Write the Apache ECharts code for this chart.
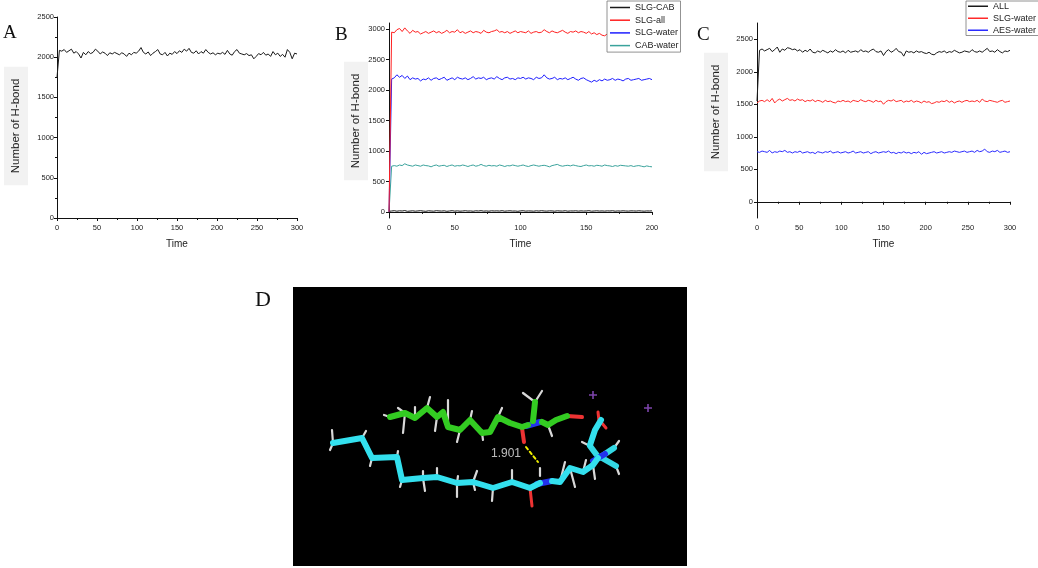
<!DOCTYPE html>
<html>
<head>
<meta charset="utf-8">
<title>H-bond</title>
<script src="https://cdn.jsdelivr.net/npm/echarts@6/dist/echarts.min.js"></script>
<style>
  html, body { margin: 0; padding: 0; background: #fff; }
  #chart { width: 1038px; height: 568px; }
</style>
</head>
<body>
<div id="chart"></div>
<script type="text/javascript">
// ---- data ----
var spanA = 300, spanB = 200, spanC = 300;
var yTicksB = [0, 500, 1000, 1500, 2000, 2500, 3000];
var yTicksC = [0, 500, 1000, 1500, 2000, 2500];

// panel A (every ~3 time units)
var hbondA = [1750, 2085, 2075, 2095, 2060, 2080, 2100, 2050, 2070, 2040, 1990, 2060, 2030, 2070, 2045, 2060, 2100, 2075, 2040, 2065,
  2050, 2020, 2055, 2040, 2060, 2045, 2030, 2055, 2040, 2010, 2050, 2030, 2060, 2050, 2075, 2120, 2060, 2040, 2065, 2020,
  2050, 2070, 2095, 2040, 2030, 2060, 2015, 2050, 2035, 2070, 2045, 2080, 2060, 2100, 2075, 2110, 2060, 2050, 2080, 2040,
  2070, 2050, 2095, 2060, 2040, 2055, 2030, 2050, 2040, 2060, 2035, 2085, 2040, 2025, 2070, 2095, 2050, 2040, 2030, 2045,
  2020, 2030, 1980, 2010, 2045, 2030, 2060, 2025, 2040, 2010, 2070, 2030, 2050, 2010, 2035, 2000, 2095, 2060, 1980, 2050, 2040];

// panel B (every ~2 time units)
var slgCab = [10, 15, 20, 12, 18, 15, 22, 10, 14, 18, 12, 16, 20, 14, 10, 18, 15, 12, 20, 16, 14, 18, 10, 15, 20, 13, 17, 12, 15, 19,
  14, 16, 11, 18, 15, 20, 13, 16, 12, 18, 15, 17, 14, 20, 12, 16, 18, 14, 15, 10, 17, 19, 13, 16, 15, 12, 18, 14, 20, 15,
  13, 17, 16, 12, 18, 15, 14, 19, 12, 16, 15, 18, 13, 17, 14, 16, 20, 12, 15, 18, 14, 16, 13, 17, 15, 19, 12, 16, 14, 18,
  15, 13, 17, 16, 14, 18, 15, 12, 16, 15, 17];
var slgAll = [0, 2950, 2940, 2990, 3010, 2960, 3020, 2970, 2930, 2980, 2950, 2960, 2920, 2940, 2960, 2930, 2950, 2970, 2940, 2960,
  2930, 2950, 2980, 2940, 2960, 2950, 2990, 2940, 2960, 2930, 2950, 2970, 2940, 2960, 2950, 2930, 2980, 2950, 2940, 2960,
  2970, 2990, 2950, 2960, 2940, 2960, 2930, 2950, 2970, 2940, 2960, 2950, 2940, 2970, 2930, 2950, 2960, 2940, 2950, 2990,
  2960, 2940, 2970, 2950, 2940, 2960, 2980, 2950, 2930, 2960, 2950, 2970, 2940, 2960, 2950, 2930, 2960, 2920, 2940, 2910,
  2930, 2900, 2890, 2920, 2880, 2910, 2900, 2930, 2910, 2920, 2940, 2910, 2920, 2930, 2910, 2920, 2900, 2930, 2910, 2920, 2910];
var slgWaterB = [0, 2180, 2200, 2250, 2210, 2240, 2190, 2230, 2170, 2200, 2180, 2190, 2150, 2180, 2170, 2200, 2160, 2190, 2200, 2170,
  2190, 2210, 2160, 2180, 2200, 2170, 2210, 2190, 2180, 2200, 2170, 2190, 2220, 2180, 2200, 2190, 2210, 2170, 2190, 2200,
  2180, 2220, 2190, 2170, 2200, 2210, 2180, 2190, 2170, 2200, 2190, 2210, 2180, 2200, 2190, 2170, 2210, 2190, 2200, 2250,
  2200, 2180, 2190, 2210, 2170, 2190, 2180, 2200, 2170, 2190, 2210, 2180, 2160, 2190, 2200, 2170, 2150, 2130, 2160, 2140,
  2170, 2150, 2180, 2160, 2170, 2190, 2160, 2180, 2170, 2150, 2180, 2190, 2160, 2170, 2180, 2190, 2160, 2170, 2180, 2190, 2170];
var cabWater = [0, 750, 760, 750, 770, 760, 790, 770, 760, 750, 770, 760, 750, 770, 760, 755, 740, 760, 770, 750,
  760, 765, 745, 760, 770, 750, 760, 755, 770, 760, 745, 760, 770, 750, 760, 780, 760, 750, 765, 755,
  760, 750, 770, 760, 745, 760, 755, 770, 760, 750, 760, 770, 755, 745, 760, 770, 760, 750, 760, 765,
  755, 740, 760, 770, 780, 760, 750, 760, 765, 755, 770, 760, 750, 745, 760, 770, 755, 760, 750, 765,
  760, 750, 770, 760, 755, 745, 760, 750, 765, 760, 755, 750, 760, 745, 755, 760, 750, 740, 755, 745, 740];

// panel C (every ~3 time units)
var allC = [1550, 2330, 2350, 2320, 2340, 2360, 2310, 2340, 2380, 2300, 2350, 2330, 2370, 2360, 2340, 2350, 2320, 2340, 2300, 2330,
  2310, 2350, 2300, 2290, 2320, 2300, 2330, 2310, 2290, 2320, 2300, 2340, 2310, 2300, 2320, 2290, 2330, 2300, 2310, 2320,
  2300, 2340, 2310, 2320, 2300, 2330, 2350, 2310, 2300, 2320, 2250, 2310, 2340, 2300, 2320, 2360, 2310, 2300, 2240, 2320,
  2300, 2310, 2290, 2320, 2300, 2310, 2290, 2280, 2300, 2270, 2260, 2290, 2310, 2300, 2320, 2290, 2310, 2300, 2330, 2310,
  2290, 2300, 2320, 2310, 2300, 2340, 2310, 2300, 2320, 2300, 2330, 2360, 2310, 2320, 2300, 2340, 2310, 2290, 2320, 2310, 2330];
var slgWaterC = [1520, 1550, 1560, 1540, 1570, 1540, 1590, 1520, 1560, 1580, 1550, 1570, 1590, 1560, 1570, 1550, 1580, 1560, 1570, 1540,
  1560, 1550, 1570, 1540, 1560, 1550, 1530, 1560, 1540, 1550, 1530, 1520, 1550, 1540, 1560, 1540, 1550, 1530, 1560, 1550,
  1540, 1570, 1550, 1540, 1560, 1550, 1530, 1560, 1540, 1550, 1500, 1540, 1560, 1550, 1570, 1540, 1550, 1560, 1530, 1550,
  1540, 1560, 1530, 1550, 1540, 1520, 1550, 1530, 1540, 1510, 1520, 1540, 1530, 1550, 1540, 1560, 1530, 1550, 1520, 1540,
  1550, 1530, 1550, 1560, 1540, 1550, 1540, 1560, 1530, 1580, 1550, 1540, 1560, 1550, 1540, 1530, 1550, 1560, 1530, 1540, 1550];
var aesWater = [770, 760, 780, 770, 760, 790, 750, 770, 760, 780, 770, 790, 760, 770, 750, 770, 760, 780, 750, 760,
  770, 750, 760, 740, 770, 760, 750, 770, 760, 780, 750, 760, 770, 750, 760, 770, 750, 760, 780, 750,
  760, 770, 750, 760, 770, 740, 760, 770, 750, 760, 770, 760, 780, 750, 760, 740, 760, 750, 770, 750,
  760, 740, 760, 750, 770, 730, 760, 740, 750, 760, 770, 750, 760, 770, 750, 760, 770, 760, 780, 770,
  760, 770, 780, 760, 770, 780, 760, 790, 770, 780, 810, 770, 760, 780, 770, 790, 760, 770, 780, 760, 770];

// panel D: stick model, picture coordinates inside the black frame
var cyanChain = [[43,163],[72,158],[82,178],[107,177],[112,200],[133,198],[147,197],[167,203],[183,202],[203,208],[222,202],[240,208],[250,203]];
var cyanTail = [[262,201],[270,202],[280,188],[293,192],[303,185],[308,178]];
var cyanHead = [[300,165],[305,150],[311,140]];
var cyanMethyls = [[[312,176],[324,168]], [[312,178],[326,186]], [[309,178],[300,166]]];
var cyanN = [[[247,204],[262,201]], [[303,181],[315,174]]];
var cyanO = [[[240,208],[242,226]], [[309,141],[308,132]], [[311,142],[316,148]]];
var greenChain = [[100,137],[115,133],[125,138],[137,128],[147,137],[153,132],[158,147],[170,150],[180,140],[192,153],[200,152],[208,137],[220,143],[232,147],[238,145]];
var greenTail = [[252,142],[258,145],[266,140],[277,136]];
var greenMethyl = [[243,141],[245,122]];
var greenN = [[[236,146],[250,142]]];
var greenO = [[[232,148],[234,162]], [[277,136],[292,137]]];
var hydrogens = [
  [[43,163],[42,150]], [[43,163],[40,170]], [[72,158],[76,151]], [[82,178],[80,186]], [[107,177],[108,171]],
  [[112,200],[110,207]], [[133,198],[133,191]], [[133,198],[135,211]], [[147,197],[147,188]], [[167,203],[167,217]],
  [[167,203],[168,196]], [[183,202],[187,191]], [[183,202],[185,210]], [[203,208],[202,221]], [[222,202],[222,190]],
  [[250,188],[250,196]], [[270,202],[275,182]], [[280,188],[285,207]], [[293,192],[296,180]], [[303,185],[305,199]],
  [[324,168],[329,161]], [[326,186],[329,194]], [[300,166],[292,162]],
  [[100,137],[94,135]], [[115,133],[108,128]], [[115,133],[113,153]], [[125,138],[125,127]], [[137,128],[140,117]],
  [[147,137],[145,151]], [[158,147],[158,120]], [[170,150],[167,162]], [[180,140],[182,131]], [[192,153],[193,160]],
  [[208,137],[212,128]], [[245,122],[233,113]], [[245,122],[252,111]], [[258,145],[262,156]]
];
var hBond = [[236,167],[248,182]];
var hBondLabel = [[216,174, '1.901']];
var ions = [[303,115],[358,128]];

function toPairs(values, span) {
  return values.map(function (v, i) { return [i * span / (values.length - 1), v]; });
}

var myChart = echarts.init(document.getElementById('chart'), null, { renderer: 'canvas' });
var font = 'Liberation Sans, Arial, sans-serif';
var plain = function (v) { return String(v); };

function xAxisOf(grid, max) {
  return {
    gridIndex: grid, type: 'value', min: 0, max: max, interval: 50,
    axisLine: { lineStyle: { color: '#111', width: 1 } }, splitLine: { show: false },
    axisTick: { show: true, inside: false, length: 3, lineStyle: { color: '#111' } },
    minorTick: { show: true, splitNumber: 2, length: 2, lineStyle: { color: '#111' } },
    axisLabel: { fontSize: 7.5, color: '#222', margin: 6, fontFamily: font, formatter: plain },
    name: 'Time', nameLocation: 'middle', nameGap: 21,
    nameTextStyle: { fontSize: 10, color: '#222', fontFamily: font }
  };
}

// rotated y-axis title with its grey box
function yTitle(x, y) {
  return {
    type: 'text', x: x, y: y, rotation: Math.PI / 2, silent: true,
    style: {
      text: 'Number of H-bond', font: '11.5px ' + font, fill: '#222',
      align: 'center', verticalAlign: 'middle',
      backgroundColor: '#f2f2f2', padding: [6, 12, 6, 12]
    }
  };
}

function lineSeries(name, data, color, xi) {
  return {
    name: name, type: 'line', xAxisIndex: xi, yAxisIndex: xi, data: data,
    symbol: 'none', silent: true, animation: false,
    lineStyle: { color: color, width: 1 }, itemStyle: { color: color }
  };
}

function stick(data, color, width) {
  return {
    type: 'line', xAxisIndex: 3, yAxisIndex: 3, data: data, symbol: 'none', silent: true, animation: false,
    lineStyle: { color: color, width: width || 6, cap: 'round', join: 'round' }
  };
}

function segs(list, color, width, type) {
  return {
    type: 'lines', coordinateSystem: 'cartesian2d', xAxisIndex: 3, yAxisIndex: 3, silent: true, animation: false,
    data: list.map(function (s) { return { coords: s }; }),
    lineStyle: { color: color, width: width, cap: 'round', type: type || 'solid', opacity: 1 }
  };
}

var yA = {
  gridIndex: 0, type: 'value', min: 0, max: 2500, interval: 500,
  axisLine: { show: true, lineStyle: { color: '#111' } }, splitLine: { show: false },
  axisTick: { show: true, length: 3, lineStyle: { color: '#111' } },
  minorTick: { show: true, splitNumber: 2, length: 2, lineStyle: { color: '#111' } },
  axisLabel: { fontSize: 7.5, color: '#222', margin: 3, fontFamily: font, formatter: plain }
};

var yB = {
  gridIndex: 1, type: 'value', min: -100, max: 3100,
  axisLine: { show: true, lineStyle: { color: '#111' } }, splitLine: { show: false },
  axisTick: { show: true, length: 3, customValues: yTicksB, lineStyle: { color: '#111' } },
  axisLabel: { fontSize: 7.5, color: '#222', margin: 4, customValues: yTicksB, fontFamily: font, formatter: plain }
};

var yC = {
  gridIndex: 2, type: 'value', min: -250, max: 2750,
  axisLine: { show: true, lineStyle: { color: '#111' } }, splitLine: { show: false },
  axisTick: { show: true, length: 3, customValues: yTicksC, lineStyle: { color: '#111' } },
  axisLabel: { fontSize: 7.5, color: '#222', margin: 4, customValues: yTicksC, fontFamily: font, formatter: plain }
};

var hiddenAxis = { show: false };
var serif = '"Liberation Serif", "Times New Roman", serif';

var option = {
  backgroundColor: '#ffffff',
  animation: false,
  grid: [
    { left: 57, top: 17, width: 240, height: 201 },
    { left: 389, top: 23, width: 263, height: 195 },
    { left: 757, top: 23, width: 253, height: 195 },
    { left: 293, top: 287, width: 394, height: 279, show: true, backgroundColor: '#000', borderWidth: 0 }
  ],
  xAxis: [
    xAxisOf(0, spanA),
    xAxisOf(1, spanB),
    xAxisOf(2, spanC),
    Object.assign({ gridIndex: 3, type: 'value', min: 3, max: 397 }, hiddenAxis)
  ],
  yAxis: [
    yA, yB, yC,
    Object.assign({ gridIndex: 3, type: 'value', min: 7, max: 286, inverse: true }, hiddenAxis)
  ],
  legend: [
    {
      data: ['SLG-CAB', 'SLG-all', 'SLG-water', 'CAB-water'], orient: 'vertical', left: 607, top: 1,
      icon: 'rect', itemWidth: 20, itemHeight: 1.5, itemGap: 1.7, padding: [1, 2, 1, 3],
      borderColor: '#777', borderWidth: 0.8, backgroundColor: '#fff', selectedMode: false,
      textStyle: { fontSize: 9, color: '#222', fontFamily: font, lineHeight: 11 }
    },
    {
      data: ['ALL', 'SLG-water ', 'AES-water'], orient: 'vertical', left: 966, top: 1,
      icon: 'rect', itemWidth: 20, itemHeight: 1.5, itemGap: 1.5, padding: [0, 1, 0, 2],
      borderColor: '#777', borderWidth: 0.8, backgroundColor: '#fff', selectedMode: false,
      textStyle: { fontSize: 9, color: '#222', fontFamily: font, lineHeight: 10.5 }
    }
  ],
  graphic: [
    { type: 'text', left: 3, top: 24, style: { text: 'A', font: '19px ' + serif, fill: '#111' } },
    { type: 'text', left: 335, top: 26, style: { text: 'B', font: '19px ' + serif, fill: '#111' } },
    { type: 'text', left: 697, top: 26, style: { text: 'C', font: '19px ' + serif, fill: '#111' } },
    { type: 'text', left: 255, top: 289, style: { text: 'D', font: '22px ' + serif, fill: '#111' } },
    yTitle(16, 126),
    yTitle(356, 121),
    yTitle(716, 112)
  ],
  series: [
    lineSeries('A', toPairs(hbondA, spanA), '#1a1a1a', 0),
    lineSeries('SLG-CAB', toPairs(slgCab, spanB), '#1a1a1a', 1),
    lineSeries('CAB-water', toPairs(cabWater, spanB), '#3aa39c', 1),
    lineSeries('SLG-water', toPairs(slgWaterB, spanB), '#1e1eff', 1),
    lineSeries('SLG-all', toPairs(slgAll, spanB), '#ff2020', 1),
    lineSeries('AES-water', toPairs(aesWater, spanC), '#2b2bff', 2),
    lineSeries('SLG-water ', toPairs(slgWaterC, spanC), '#ff2a2a', 2),
    lineSeries('ALL', toPairs(allC, spanC), '#1a1a1a', 2),
    // molecule D
    segs(hydrogens, '#d8d8d8', 2.2),
    stick(greenChain, '#33cc22'),
    stick(greenTail, '#33cc22'),
    stick(greenMethyl, '#33cc22'),
    segs(greenN, '#2233ee', 6),
    segs(greenO, '#ee3333', 4),
    stick(cyanChain, '#33e0ee'),
    stick(cyanTail, '#33e0ee'),
    stick(cyanHead, '#33e0ee'),
    segs(cyanMethyls, '#33d8e4', 6),
    segs(cyanN, '#2233ee', 6),
    segs(cyanO, '#ee3333', 3),
    segs([hBond], '#f0f000', 2, [3, 3]),
    {
      type: 'scatter', xAxisIndex: 3, yAxisIndex: 3, data: hBondLabel, symbolSize: 0, silent: true, animation: false,
      label: { show: true, formatter: function (p) { return p.data[2]; }, color: '#e8e8e8', fontSize: 12, fontFamily: font }
    },
    {
      type: 'scatter', xAxisIndex: 3, yAxisIndex: 3, data: ions, silent: true, animation: false,
      symbol: 'path://M4,0 L6,0 L6,4 L10,4 L10,6 L6,6 L6,10 L4,10 L4,6 L0,6 L0,4 L4,4 Z', symbolSize: 8,
      itemStyle: { color: '#9b55d6' }
    }
  ]
};

myChart.setOption(option);
</script>
</body>
</html>
